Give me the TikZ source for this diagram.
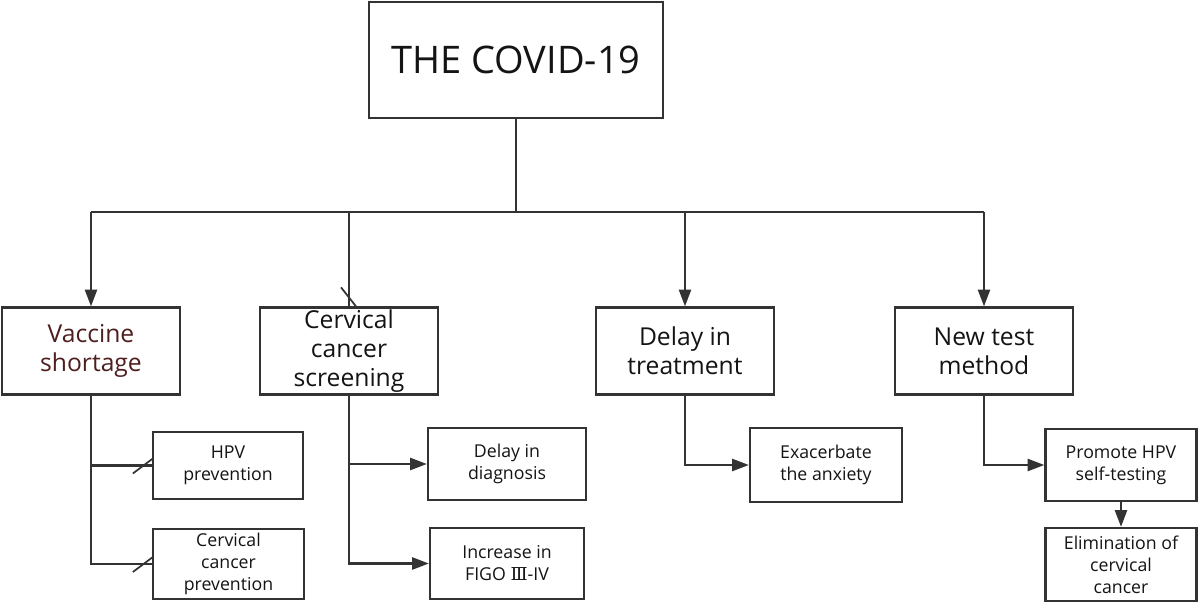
\documentclass[tikz,border=0pt]{standalone}
\usepackage{fontspec}
\setmainfont{Open Sans}
\newfontfamily\romfont{DejaVu Serif}
\usetikzlibrary{arrows.meta}
\definecolor{linec}{HTML}{333333}
\definecolor{txtc}{HTML}{141414}
\definecolor{redc}{HTML}{4E1F1F}
\begin{document}
\begin{tikzpicture}[x=0.75pt,y=-0.75pt,
  box/.style={draw=linec, line width=1.7pt, rectangle, inner sep=0pt, align=center, text=txtc},
  big/.style={box, font=\fontsize{28.5}{34}\selectfont},
  mid/.style={box, font=\fontsize{18.5}{21.5}\selectfont, minimum width=133.5pt, minimum height=65.25pt},
  small/.style={box, font=\fontsize{13.3}{16.5}\selectfont},
  conn/.style={draw=linec, line width=1.7pt},
  arr/.style={conn, -{Triangle[length=12.5pt,width=9pt]}},
  slash/.style={draw=linec, line width=1.3pt},
]
\useasboundingbox (0,0) rectangle (1200,605);
\fill[white] (0,0) rectangle (1200,605);

% top
\node[big, minimum width=220.5pt, minimum height=87pt] (top) at (516,60) {THE COVID-19};

% level 2
\node[mid, text=redc] (vac) at (91,351) {Vaccine\\shortage};
\node[mid] (scr) at (349,351) {Cervical\\cancer\\screening};
\node[mid] (del) at (685,351) {Delay in\\treatment};
\node[mid] (new) at (984,351) {New test\\method};

% level 3
\node[small, minimum width=112.5pt, minimum height=50.25pt] (hpv) at (228,465.5) {HPV\\prevention};
\node[small, minimum width=113.25pt, minimum height=52.5pt] (ccp) at (228.5,564) {Cervical\\cancer\\prevention};
\node[small, minimum width=118.5pt, minimum height=54pt] (dd) at (507,464) {Delay in\\diagnosis};
\node[small, minimum width=115.5pt, minimum height=53.25pt] (inc) at (507,563.5) {Increase in\\FIGO {\romfont Ⅲ}-IV};
\node[small, minimum width=114pt, minimum height=55.5pt] (exa) at (826,465) {Exacerbate\\the anxiety};
\node[small, minimum width=113.25pt, minimum height=54pt] (pro) at (1121,465) {Promote HPV\\self-testing};
\node[small, minimum width=113.25pt, minimum height=54.75pt] (eli) at (1121,564.5) {Elimination of\\cervical\\cancer};

% trunk
\coordinate (hub) at (516,212);
\draw[conn] (top.south) -- (hub);
\draw[conn] (vac.north |- hub) -- (new.north |- hub);
\draw[arr] (vac.north |- hub) -- (vac.north);
\draw[conn] (scr.north |- hub) -- (scr.north);
\draw[slash] ([shift={(-8,-19)}]scr.north) -- ([shift={(7,0)}]scr.north);
\draw[arr] (del.north |- hub) -- (del.north);
\draw[arr] (new.north |- hub) -- (new.north);

% vaccine branches
\draw[conn] (vac.south) |- (hpv.west);
\draw[conn] (vac.south) |- (ccp.west);
\draw[slash] ([shift={(-19,8)}]hpv.west) -- ([shift={(1,-7)}]hpv.west);
\draw[slash] ([shift={(-19,8)}]ccp.west) -- ([shift={(1,-7)}]ccp.west);

% screening branches
\draw[arr] (scr.south) |- (dd.west);
\draw[arr] (scr.south) |- (inc.west);

% delay branch
\draw[arr] (del.south) |- (exa.west);

% new test branches
\draw[arr] (new.south) |- (pro.west);
\draw[arr] (pro.south) -- (eli.north);
\end{tikzpicture}
\end{document}
